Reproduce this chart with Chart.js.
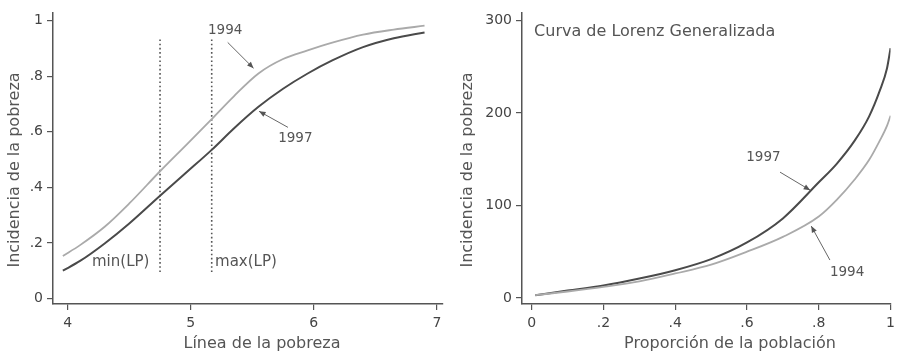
<!DOCTYPE html>
<html>
<head>
<meta charset="utf-8">
<script src="https://cdn.jsdelivr.net/npm/chart.js@4.4.1/dist/chart.umd.min.js"></script>
<style>
  html, body { margin: 0; padding: 0; background: #fff; }
  .panel { position: absolute; top: 0; width: 450px; height: 352px; }
  #left { left: 0; }
  #right { left: 450px; }
</style>
</head>
<body>
<div class="panel" id="left"><canvas id="chart-incidencia" width="450" height="352"></canvas></div>
<div class="panel" id="right"><canvas id="chart-lorenz" width="450" height="352"></canvas></div>
<script>
// --- datos: incidencia de la pobreza según línea de pobreza ---
const povertyLine = [3.96, 4.1, 4.3, 4.5, 4.75, 4.97, 5.17, 5.35, 5.55, 5.75, 5.95, 6.15, 6.4, 6.65, 6.9];
const incidence1994 = [0.153, 0.192, 0.258, 0.342, 0.458, 0.556, 0.646, 0.728, 0.81, 0.862, 0.893, 0.921, 0.95, 0.968, 0.982];
const incidence1997 = [0.1, 0.135, 0.198, 0.27, 0.37, 0.456, 0.535, 0.612, 0.69, 0.755, 0.81, 0.857, 0.905, 0.937, 0.958];
const minLP = 4.75;
const maxLP = 5.17;
const leftXTicks = [4, 5, 6, 7];
const leftYTicks = [0, 0.2, 0.4, 0.6, 0.8, 1];
const leftYLabels = ['0', '.2', '.4', '.6', '.8', '1'];

// --- datos: curva de Lorenz generalizada ---
const populationShare = [0.01, 0.1, 0.2, 0.3, 0.4, 0.5, 0.6, 0.7, 0.8, 0.85, 0.9, 0.94, 0.97, 0.99, 1.0];
const glc1994 = [3, 7, 12, 18, 26.5, 36, 50, 66, 88, 106, 128, 149, 170, 186, 197];
const glc1997 = [3, 8, 13.5, 21, 30, 42, 60, 86, 125, 145, 170, 196, 224, 248, 270];
const rightXTicks = [0, 0.2, 0.4, 0.6, 0.8, 1];
const rightXLabels = ['0', '.2', '.4', '.6', '.8', '1'];
const rightYTicks = [0, 100, 200, 300];

const FONT = "'DejaVu Sans', sans-serif";
const INK = '#555';
const DARK = '#4a4a4a';
const LIGHT = '#aaaaaa';

Chart.defaults.font.family = FONT;
Chart.defaults.color = INK;
Chart.defaults.animation = false;

const pts = (xs, ys) => xs.map((x, i) => ({ x: x, y: ys[i] }));

function curve(data, color, width) {
  return {
    data: data, borderColor: color, borderWidth: width,
    showLine: true, pointRadius: 0, tension: 0.4, cubicInterpolationMode: 'monotone'
  };
}

function axis(min, max, ticks, labels, fitSize, horizontal) {
  return {
    type: 'linear', min: min, max: max,
    afterBuildTicks: s => { s.ticks = ticks.map(v => ({ value: v })); },
    afterFit: s => { if (horizontal) s.height = fitSize; else s.width = fitSize; },
    grid: { drawOnChartArea: false, drawTicks: true, tickLength: 6, color: INK, lineWidth: 1.2 },
    border: { display: true, color: INK, width: 1.5 },
    ticks: {
      autoSkip: false, maxRotation: 0, padding: horizontal ? 5 : 4,
      font: { size: 14 }, color: '#444',
      callback: (v, i) => labels ? labels[i] : String(v)
    }
  };
}

// notas: textos y flechas en coordenadas de datos, títulos en píxeles
const notesPlugin = {
  id: 'notes',
  afterDraw(chart, args, opts) {
    const { ctx, scales: { x, y } } = chart;
    ctx.save();
    ctx.fillStyle = INK;
    ctx.strokeStyle = '#666';
    (opts.texts || []).forEach(t => {
      ctx.font = (t.size || 13) + 'px ' + FONT;
      ctx.textAlign = t.align || 'left';
      ctx.textBaseline = 'middle';
      ctx.fillText(t.text, x.getPixelForValue(t.x), y.getPixelForValue(t.y));
    });
    (opts.arrows || []).forEach(a => {
      const x0 = x.getPixelForValue(a.from[0]), y0 = y.getPixelForValue(a.from[1]);
      const x1 = x.getPixelForValue(a.to[0]), y1 = y.getPixelForValue(a.to[1]);
      ctx.lineWidth = 1;
      ctx.beginPath(); ctx.moveTo(x0, y0); ctx.lineTo(x1, y1); ctx.stroke();
      const ang = Math.atan2(y1 - y0, x1 - x0);
      ctx.beginPath();
      ctx.moveTo(x1, y1);
      ctx.lineTo(x1 - 7 * Math.cos(ang - 0.4), y1 - 7 * Math.sin(ang - 0.4));
      ctx.lineTo(x1 - 7 * Math.cos(ang + 0.4), y1 - 7 * Math.sin(ang + 0.4));
      ctx.closePath(); ctx.fill();
    });
    (opts.titles || []).forEach(t => {
      ctx.save();
      ctx.font = '16px ' + FONT;
      ctx.textAlign = 'center';
      ctx.textBaseline = 'middle';
      ctx.translate(t.px, t.py);
      if (t.rotate) ctx.rotate(-Math.PI / 2);
      ctx.fillText(t.text, 0, 0);
      ctx.restore();
    });
    ctx.restore();
  }
};

// --- 1. Incidencia de la pobreza ---
new Chart(document.getElementById('chart-incidencia'), {
  type: 'scatter',
  data: {
    datasets: [
      curve(pts(povertyLine, incidence1994), LIGHT, 1.8),
      curve(pts(povertyLine, incidence1997), DARK, 2),
      { data: [{ x: minLP, y: 0.095 }, { x: minLP, y: 0.94 }], showLine: true, pointRadius: 0,
        borderColor: INK, borderWidth: 1.6, borderDash: [1.6, 2.6] },
      { data: [{ x: maxLP, y: 0.095 }, { x: maxLP, y: 0.94 }], showLine: true, pointRadius: 0,
        borderColor: INK, borderWidth: 1.6, borderDash: [1.6, 2.6] }
    ]
  },
  options: {
    responsive: false,
    layout: { padding: { top: 12, right: 7, left: 0, bottom: 0 } },
    plugins: {
      legend: { display: false }, tooltip: { enabled: false },
      notes: {
        texts: [
          { text: '1994', x: 5.14, y: 0.965, size: 13.5 },
          { text: '1997', x: 5.71, y: 0.577, size: 13.5 },
          { text: 'min(LP)', x: 4.197, y: 0.131, size: 15 },
          { text: 'max(LP)', x: 5.197, y: 0.131, size: 15 }
        ],
        arrows: [
          { from: [5.30, 0.922], to: [5.51, 0.829] },
          { from: [5.79, 0.616], to: [5.555, 0.674] }
        ],
        titles: [
          { text: 'Incidencia de la pobreza', px: 15, py: 170, rotate: true },
          { text: 'Línea de la pobreza', px: 262, py: 344 }
        ]
      }
    },
    scales: {
      x: axis(3.88, 7.05, leftXTicks, null, 48, true),
      y: axis(-0.02, 1.03, leftYTicks, leftYLabels, 53, false)
    }
  },
  plugins: [notesPlugin]
});

// --- 2. Curva de Lorenz generalizada ---
new Chart(document.getElementById('chart-lorenz'), {
  type: 'scatter',
  data: {
    datasets: [
      curve(pts(populationShare, glc1994), LIGHT, 1.8),
      curve(pts(populationShare, glc1997), DARK, 2)
    ]
  },
  options: {
    responsive: false,
    layout: { padding: { top: 12, right: 3.3, left: 0, bottom: 0 } },
    plugins: {
      legend: { display: false }, tooltip: { enabled: false },
      notes: {
        texts: [
          { text: 'Curva de Lorenz Generalizada', x: 0.0067, y: 288, size: 16 },
          { text: '1997', x: 0.598, y: 152, size: 13.5 },
          { text: '1994', x: 0.831, y: 27, size: 13.5 }
        ],
        arrows: [
          { from: [0.692, 136], to: [0.776, 116.5] },
          { from: [0.831, 41], to: [0.779, 77.7] }
        ],
        titles: [
          { text: 'Incidencia de la pobreza', px: 18, py: 170, rotate: true },
          { text: 'Proporción de la población', px: 280, py: 344 }
        ]
      }
    },
    scales: {
      x: axis(-0.027, 1.0, rightXTicks, rightXLabels, 48, true),
      y: axis(-6.5, 308.6, rightYTicks, null, 72, false)
    }
  },
  plugins: [notesPlugin]
});
</script>
</body>
</html>
